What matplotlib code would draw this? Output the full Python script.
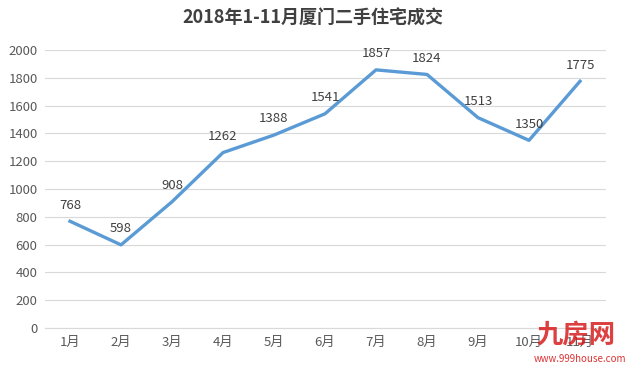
import matplotlib
matplotlib.use('Agg')
import matplotlib.pyplot as plt

plt.rcParams['font.family'] = ['Noto Sans CJK SC', 'DejaVu Sans']

months = ['1月', '2月', '3月', '4月', '5月', '6月', '7月', '8月', '9月', '10月', '11月']
deals = [768, 598, 908, 1262, 1388, 1541, 1857, 1824, 1513, 1350, 1775]
yticks = list(range(0, 2001, 200))

fig = plt.figure(figsize=(6.25, 3.67), dpi=100)
ax = fig.add_axes([0.0712, 0.1063, 0.8976, 0.7575])

x = list(range(len(months)))
ax.plot(x, deals, color='#5b9bd5', linewidth=2.4, solid_joinstyle='round')
for xi, v in zip(x, deals):
    ax.annotate(str(v), (xi, v), xytext=(0, 7), textcoords='offset points',
                ha='center', va='bottom', fontsize=9.5, color='#404040')

ax.set_xlim(-0.5, len(months) - 0.5)
ax.set_ylim(0, 2000)
ax.set_yticks(yticks)
ax.set_xticks(x)
ax.set_xticklabels(months)
ax.tick_params(axis='both', length=0, labelsize=9.5, colors='#595959')
ax.tick_params(axis='y', pad=5)
ax.tick_params(axis='x', pad=6)
ax.grid(axis='y', color='#d9d9d9', linewidth=0.8)
ax.set_axisbelow(True)
for s in ['top', 'right', 'left']:
    ax.spines[s].set_visible(False)
ax.spines['bottom'].set_color('#d9d9d9')

fig.text(0.5, 0.95, '2018年1-11月厦门二手住宅成交', ha='center', va='center',
         fontsize=13, fontweight='bold', color='#404040')

# watermark
fig.text(0.922, 0.088, '九房网', ha='center', va='center', fontsize=19,
         fontweight='bold', color='#d81e1e', alpha=0.85)
fig.text(0.928, 0.022, 'www.999house.com', ha='center', va='center', fontsize=7,
         color='#d81e1e', alpha=0.9)

fig.savefig('out.png', dpi=100)
